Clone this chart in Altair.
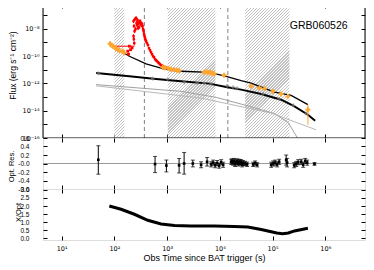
import math
import altair as alt
import pandas as pd

# ---------------- panel sizes ----------------
W, H1, H2, H3 = 322, 134, 51, 51

# ---------------- axis domains / ticks ----------------
T_DOMAIN = [4.44, 5.66e6]
FLUX_DOMAIN = [1e-16, 6.6e-7]
RES_DOMAIN = [-0.6, 0.6]
RATIO_DOMAIN = [-0.1, 3.05]

time_ticks = [1e1, 1e2, 1e3, 1e4, 1e5, 1e6]
time_labels = ["10¹", "10²", "10³", "10⁴", "10⁵", "10⁶"]
flux_ticks = [1e-16, 1e-15, 1e-14, 1e-13, 1e-12, 1e-11, 1e-10, 1e-9, 1e-8, 1e-7]
flux_labels = ["10⁻¹⁶", "", "10⁻¹⁴", "", "10⁻¹²", "", "10⁻¹⁰", "", "10⁻⁸", ""]
res_ticks = [-0.6, -0.4, -0.2, 0.0, 0.2, 0.4, 0.6]
res_labels = ["-0.6", "-0.4", "-0.2", "-0.0", "0.2", "0.4", "0.6"]
ratio_ticks = [0.0, 0.5, 1.0, 1.5, 2.0, 2.5, 3.0]
ratio_labels = ["0.0", "0.5", "1.0", "1.5", "2.0", "2.5", "3.0"]

# ---------------- data (times in s, log10 where noted) ----------------
band_start = [100, 1030, 30200]
band_end = [155, 8260, 209000]
dash_times = [371, 14200]

# X-ray (red) light curve, log10 t / log10 flux / log10 error
xrt_log_t = [2.364, 2.364, 2.370, 2.374, 2.378, 2.383, 2.393, 2.402, 2.412, 2.421,
             2.431, 2.440, 2.450, 2.459, 2.469, 2.478, 2.488, 2.497, 2.507, 2.516,
             2.526, 2.535, 2.545, 2.554, 2.564, 2.573, 2.583, 2.592, 2.602, 2.620,
             2.639, 2.658, 2.677, 2.696, 2.715, 2.734, 2.753, 2.772, 2.791, 2.810,
             2.829, 2.848, 2.867, 2.886, 2.905, 2.924, 2.943, 2.981, 3.038, 3.114]
xrt_log_f = [-7.434, -8.537, -8.757, -7.801, -9.051, -8.169, -7.287, -8.022, -7.213, -7.581,
             -7.728, -7.360, -7.949, -7.581, -7.875, -7.507, -7.434, -7.654, -7.581, -7.728,
             -7.654, -7.801, -8.022, -8.169, -8.390, -8.537, -8.684, -8.831, -8.904, -9.051,
             -9.199, -9.419, -9.566, -9.713, -9.860, -10.007, -10.081, -10.228, -10.301, -10.375,
             -10.449, -10.522, -10.596, -10.669, -10.706, -10.743, -10.816, -10.853, -10.926, -11.000]
xrt_log_err = [0.15] * 29 + [0.09] * 21

# early X-ray points
xrt_early_log_t = [2.254, 2.285, 2.336, 2.269, 2.307]
xrt_early_log_f = [-9.640, -9.272, -9.397, -9.860, -9.529]
xrt_bin_log_lo = [1.956]
xrt_bin_log_hi = [2.383]
xrt_bin_log_f = [-9.272]

# optical (orange) points
opt_log_t = [1.918, 1.947, 1.975, 2.004, 2.032, 2.065, 2.099, 2.159, 2.184,
             2.918, 2.962, 3.019, 3.076, 3.133, 3.190, 3.228,
             3.702, 3.740, 3.778, 3.816, 3.854, 3.892, 4.082,
             4.594, 4.751, 4.846, 5.006, 5.163, 5.290, 5.670]
opt_log_f = [-9.088, -9.199, -9.272, -9.346, -9.419, -9.515, -9.603, -9.640, -9.750,
             -10.816, -10.853, -10.890, -10.963, -11.000, -11.037, -11.074,
             -11.184, -11.147, -11.221, -11.184, -11.257, -11.294, -11.404,
             -12.213, -12.338, -12.382, -12.581, -12.779, -12.949, -13.926]
opt_last_log_lo = [-15.029]
opt_last_log_hi = [-13.559]

# models
optmod_log_t = [1.918, 2.127, 2.285, 2.602, 2.918, 3.266, 3.803, 4.120, 4.405, 4.594, 5.036, 5.353, 5.670]
optmod_log_f = [-9.147, -9.640, -10.007, -10.574, -10.912, -11.110, -11.184, -11.478, -11.800,
                -11.971, -12.632, -12.875, -13.559]
xmod_log_t = [1.653, 2.285, 2.791, 3.266, 3.803, 4.120, 4.405, 4.784, 5.163, 5.416, 5.670, 5.808]
xmod_log_f = [-11.235, -11.478, -11.676, -11.846, -12.015, -12.265, -12.456, -12.779, -13.191,
              -13.684, -14.294, -14.735]
compA_log_t = [1.653, 3.266, 3.930, 4.461, 5.030, 5.296, 5.467, 5.524]
compA_log_f = [-12.088, -12.581, -13.022, -13.574, -14.199, -14.860, -15.963, -16.400]
compB_log_t = [1.653, 3.645, 4.974, 5.827]
compB_log_f = [-12.176, -13.074, -14.176, -15.397]

# grey converted points on lower curve
xconv_log_t = [1.696, 2.729, 3.013, 3.328, 3.569, 3.702, 3.835, 4.139, 4.252, 4.328, 4.822, 5.125, 5.391, 5.636]
xconv_log_f = [-11.257, -11.647, -11.699, -11.919, -11.956, -11.993, -12.029, -12.176, -12.287,
               -12.360, -12.765, -13.132, -13.610, -14.199]

# optical residuals
res_log_t = [1.696, 2.772, 2.987, 3.228, 3.323, 3.488, 3.645, 3.759, 3.835, 3.873,
             3.911, 3.949, 3.987, 4.025, 4.063, 4.214, 4.233, 4.252, 4.271, 4.290,
             4.309, 4.328, 4.347, 4.366, 4.385, 4.404, 4.423, 4.442, 4.480, 4.518,
             4.632, 4.670, 4.708, 4.974, 5.011, 5.049, 5.087, 5.125, 5.258, 5.277,
             5.410, 5.448, 5.486, 5.543, 5.581, 5.619, 5.657, 5.795]
res_val = [0.088, -0.014, -0.048, -0.043, 0.0, 0.0, -0.03, 0.04, -0.02, 0.02,
           -0.04, 0.01, -0.05, 0.03, -0.03, 0.04, 0.05, 0.02, 0.06, -0.01,
           0.03, 0.05, 0.0, 0.04, 0.02, 0.03, -0.02, 0.01, 0.0, -0.02,
           -0.02, 0.01, -0.03, -0.03, 0.0, 0.02, -0.02, 0.04, 0.08, 0.02,
           -0.04, -0.01, 0.03, 0.04, -0.03, 0.06, 0.02, -0.01]
res_err_lo = [0.34, 0.20, 0.15, 0.18, 0.25, 0.08, 0.07, 0.10, 0.06, 0.06,
              0.06, 0.06, 0.06, 0.06, 0.06, 0.06, 0.06, 0.06, 0.06, 0.06,
              0.06, 0.06, 0.06, 0.06, 0.06, 0.06, 0.06, 0.06, 0.05, 0.05,
              0.05, 0.05, 0.05, 0.06, 0.06, 0.06, 0.06, 0.06, 0.12, 0.10,
              0.06, 0.06, 0.06, 0.06, 0.06, 0.06, 0.06, 0.03]
res_err_hi = [0.33, 0.18, 0.13, 0.16, 0.26, 0.08, 0.07, 0.10, 0.06, 0.06,
              0.06, 0.06, 0.06, 0.06, 0.06, 0.06, 0.06, 0.06, 0.06, 0.06,
              0.06, 0.06, 0.06, 0.06, 0.06, 0.06, 0.06, 0.06, 0.05, 0.05,
              0.05, 0.05, 0.05, 0.06, 0.06, 0.06, 0.06, 0.06, 0.12, 0.10,
              0.06, 0.06, 0.06, 0.06, 0.06, 0.06, 0.06, 0.03]

# X / Opt ratio
ratio_log_t = [1.905, 2.127, 2.380, 2.634, 2.886, 3.139, 3.455, 3.898, 4.271, 4.531,
               4.784, 4.911, 5.080, 5.190, 5.300, 5.416, 5.670]
ratio_val = [2.0, 1.8, 1.49, 1.12, 0.89, 0.79, 0.76, 0.76, 0.74, 0.70,
             0.55, 0.46, 0.33, 0.29, 0.33, 0.46, 0.62]

label_text = ["GRB060526"]
label_t = [7.5e5]
label_f = [1.6e-8]

# ---------------- helpers ----------------
def p10(v):
    return [10 ** x for x in v]

def lookup_expr(labels, index_expr):
    arr = "[" + ",".join("'%s'" % s for s in labels) + "]"
    return arr + "[" + index_expr + "]"

FONT = "Liberation Sans"
LFONT = "DejaVu Sans"
xs = alt.Scale(type="log", domain=T_DOMAIN, nice=False)
ys_flux = alt.Scale(type="log", domain=FLUX_DOMAIN, nice=False)
ys_res = alt.Scale(domain=RES_DOMAIN, nice=False, zero=False)
ys_ratio = alt.Scale(domain=RATIO_DOMAIN, nice=False, zero=False)


def ax_in(orient, offset, values, size=4):
    return alt.Axis(orient=orient, offset=offset, values=values, labels=False,
                    domain=False, ticks=True, tickSize=size, tickColor="black",
                    tickWidth=1, grid=False, title=None)


def ax_main_y(values, expr, title, tx, ty, pad, fsize=6.5, tsize=8.5, lfont=FONT):
    return alt.Axis(orient="left", values=values, labelExpr=expr, ticks=False, tickSize=0,
                    domain=False, grid=False, labelPadding=pad, labelFont=lfont,
                    labelFontSize=fsize, labelColor="black", title=title, titleX=tx,
                    titleY=ty, titleBaseline="middle", titleFont=FONT,
                    titleFontSize=tsize, titleFontWeight="normal", titleColor="black")


def hatch_fill(t0, t1, h, period=3.0, frac=0.4, ink="#c2c2c2"):
    """Diagonal '/' hatching as a striped linear gradient (style only)."""
    span = math.log10(T_DOMAIN[1]) - math.log10(T_DOMAIN[0])
    w = W * (math.log10(t1) - math.log10(t0)) / span
    k = (w + h) / (w * w + h * h)
    n = max(1, int(round((w + h) / period)))
    stops = []
    for i in range(n):
        a, b, e = i / n, (i + frac) / n, (i + 1) / n
        stops += [alt.GradientStop(color=ink, offset=a), alt.GradientStop(color=ink, offset=b),
                  alt.GradientStop(color="white", offset=b), alt.GradientStop(color="white", offset=e)]
    return alt.LinearGradient(gradient="linear", stops=stops, x1=0, y1=0, x2=k * w, y2=k * h)


# ---------------- top panel ----------------
lo, hi = FLUX_DOMAIN
band_layers = []
for i, (s, e) in enumerate(zip(band_start, band_end)):
    df = pd.DataFrame({"s": [s], "e": [e], "lo": [lo], "hi": [hi]})
    if i == 0:
        xa = ax_in("top", -H1, time_ticks)
        ya = ax_main_y(flux_ticks, lookup_expr(flux_labels, "round(log(datum.value)/LN10)+16"),
                       "Flux (erg s⁻¹ cm⁻²)", -30.5, 61, 4, fsize=6.5, lfont=LFONT)
    else:
        xa, ya = None, None
    band_layers.append(
        alt.Chart(df).mark_rect(fill=hatch_fill(s, e, H1)).encode(
            x=alt.X("s:Q", scale=xs, axis=xa), x2="e:Q",
            y=alt.Y("lo:Q", scale=ys_flux, axis=ya), y2="hi:Q"))

dash_df = pd.DataFrame({"t": dash_times, "lo": lo, "hi": hi})
dashes = alt.Chart(dash_df).mark_rule(color="#808080", strokeDash=[4, 3], strokeWidth=1).encode(
    x=alt.X("t:Q", scale=xs, axis=ax_in("bottom", -H1, time_ticks)),
    y=alt.Y("lo:Q", scale=ys_flux, axis=ax_in("right", -W, flux_ticks)),
    y2="hi:Q",
)


def line_layer(lt, lf, color, width, axis=None):
    df = pd.DataFrame({"t": p10(lt), "f": p10(lf)})
    return alt.Chart(df).mark_line(color=color, strokeWidth=width, clip=True).encode(
        x=alt.X("t:Q", scale=xs, axis=None),
        y=alt.Y("f:Q", scale=ys_flux, axis=axis),
    )


compA = line_layer(compA_log_t, compA_log_f, "#a0a0a0", 1, ax_in("left", -W, flux_ticks))
compB = line_layer(compB_log_t, compB_log_f, "#b8b8b8", 1)
optmod = line_layer(optmod_log_t, optmod_log_f, "black", 1.3)
xmod = line_layer(xmod_log_t, xmod_log_f, "black", 2)

xconv = alt.Chart(pd.DataFrame({"t": p10(xconv_log_t), "f": p10(xconv_log_f)})).mark_point(
    shape="cross", filled=True, size=14, color="#7a7a7a").encode(
    x=alt.X("t:Q", scale=xs, axis=None), y=alt.Y("f:Q", scale=ys_flux, axis=None))

xrt_df = pd.DataFrame({
    "t": p10(xrt_log_t), "f": p10(xrt_log_f),
    "lo": [10 ** (f - e) for f, e in zip(xrt_log_f, xrt_log_err)],
    "hi": [10 ** (f + e) for f, e in zip(xrt_log_f, xrt_log_err)],
})
xrt_err = alt.Chart(xrt_df).mark_rule(color="#ff0000", strokeWidth=1).encode(
    x=alt.X("t:Q", scale=xs, axis=None), y=alt.Y("lo:Q", scale=ys_flux, axis=None), y2="hi:Q")
xrt_pts = alt.Chart(xrt_df).mark_point(shape="square", filled=True, size=6, color="#ff0000", opacity=1).encode(
    x=alt.X("t:Q", scale=xs, axis=None), y=alt.Y("f:Q", scale=ys_flux, axis=None))

early_df = pd.DataFrame({"t": p10(xrt_early_log_t), "f": p10(xrt_early_log_f)})
xrt_early = alt.Chart(early_df).mark_point(shape="square", filled=True, size=8, color="#ff0000", opacity=1).encode(
    x=alt.X("t:Q", scale=xs, axis=None), y=alt.Y("f:Q", scale=ys_flux, axis=None))
bin_df = pd.DataFrame({"a": p10(xrt_bin_log_lo), "b": p10(xrt_bin_log_hi), "f": p10(xrt_bin_log_f)})
xrt_bin = alt.Chart(bin_df).mark_rule(color="#ff0000", strokeWidth=1).encode(
    x=alt.X("a:Q", scale=xs, axis=None), x2="b:Q", y=alt.Y("f:Q", scale=ys_flux, axis=None))

opt_df = pd.DataFrame({"t": p10(opt_log_t), "f": p10(opt_log_f)})
opt_pts = alt.Chart(opt_df).mark_point(shape="cross", filled=True, size=24, color="#ffa630", opacity=1).encode(
    x=alt.X("t:Q", scale=xs, axis=None), y=alt.Y("f:Q", scale=ys_flux, axis=None))
opt_err_df = pd.DataFrame({"t": [p10(opt_log_t)[-1]], "lo": p10(opt_last_log_lo), "hi": p10(opt_last_log_hi)})
opt_err = alt.Chart(opt_err_df).mark_rule(color="#ffa630", strokeWidth=1).encode(
    x=alt.X("t:Q", scale=xs, axis=None), y=alt.Y("lo:Q", scale=ys_flux, axis=None), y2="hi:Q")

label = alt.Chart(pd.DataFrame({"t": label_t, "f": label_f, "s": label_text})).mark_text(
    font=FONT, fontSize=10.5, color="black", align="center", baseline="middle").encode(
    x=alt.X("t:Q", scale=xs, axis=None), y=alt.Y("f:Q", scale=ys_flux, axis=None), text="s:N")

frame_df = pd.DataFrame({"a": [T_DOMAIN[0]], "b": [T_DOMAIN[1]], "lo": [lo], "hi": [hi]})
frame = alt.Chart(frame_df).mark_rect(fillOpacity=0, stroke="black", strokeWidth=1).encode(
    x=alt.X("a:Q", scale=xs, axis=None), x2="b:Q",
    y=alt.Y("lo:Q", scale=ys_flux, axis=None), y2="hi:Q")

top = alt.layer(*band_layers, dashes, compA, compB, optmod, xmod, xconv, xrt_err, xrt_pts,
                xrt_early, xrt_bin, opt_err, opt_pts, label, frame).resolve_axis(
    x="independent", y="independent").properties(width=W, height=H1)

# ---------------- middle panel ----------------
res_df = pd.DataFrame({
    "t": p10(res_log_t), "v": res_val,
    "lo": [v - e for v, e in zip(res_val, res_err_lo)],
    "hi": [v + e for v, e in zip(res_val, res_err_hi)],
})
zero_df = pd.DataFrame({"v": [0.0]})

zero_line = alt.Chart(zero_df).mark_rule(color="#9a9a9a", strokeWidth=1).encode(
    y=alt.Y("v:Q", scale=ys_res,
            axis=ax_main_y(res_ticks, lookup_expr(res_labels, "round((datum.value+0.6)*5)"),
                           "Opt. Res.", -32, 28, 14, fsize=6.5, tsize=7.5)))
res_bar = alt.Chart(res_df).mark_rule(color="black", strokeWidth=1).encode(
    x=alt.X("t:Q", scale=xs, axis=ax_in("top", -H2, time_ticks)),
    y=alt.Y("lo:Q", scale=ys_res, axis=ax_in("right", -W, res_ticks)), y2="hi:Q")
cap_lo = alt.Chart(res_df).mark_tick(orient="horizontal", size=4, thickness=1, color="black").encode(
    x=alt.X("t:Q", scale=xs, axis=ax_in("bottom", -H2, time_ticks)),
    y=alt.Y("lo:Q", scale=ys_res, axis=ax_in("left", -W, res_ticks)))
cap_hi = alt.Chart(res_df).mark_tick(orient="horizontal", size=4, thickness=1, color="black").encode(
    x=alt.X("t:Q", scale=xs, axis=None), y=alt.Y("hi:Q", scale=ys_res, axis=None))
res_pts = alt.Chart(res_df).mark_point(shape="square", filled=True, size=7, color="black", opacity=1).encode(
    x=alt.X("t:Q", scale=xs, axis=None), y=alt.Y("v:Q", scale=ys_res, axis=None))

mid = alt.layer(zero_line, res_bar, cap_lo, cap_hi, res_pts).resolve_axis(
    x="independent", y="independent").properties(width=W, height=H2)

# ---------------- bottom panel ----------------
ratio_df = pd.DataFrame({"t": p10(ratio_log_t), "r": ratio_val})
x_main = alt.Axis(orient="bottom", values=time_ticks,
                  labelExpr=lookup_expr(time_labels, "round(log(datum.value)/LN10)-1"),
                  ticks=False, tickSize=0, domain=False, grid=False, labelPadding=10,
                  labelBaseline="alphabetic", labelFont=LFONT, labelFontSize=6.5, labelColor="black",
                  title="Obs Time since BAT trigger (s)", titleFont=FONT, titleFontSize=9,
                  titleFontWeight="normal", titleColor="black", titleY=20.5,
                  titleBaseline="alphabetic")
ratio_line = alt.Chart(ratio_df).mark_line(color="black", strokeWidth=3).encode(
    x=alt.X("t:Q", scale=xs, axis=x_main),
    y=alt.Y("r:Q", scale=ys_ratio,
            axis=ax_main_y(ratio_ticks, lookup_expr(ratio_labels, "round(datum.value*2)"),
                           "X/Opt", -24.7, 23, 14, fsize=6.5, tsize=7.5)))
carrier1 = alt.Chart(ratio_df).mark_point(opacity=0).encode(
    x=alt.X("t:Q", scale=xs, axis=ax_in("top", -H3, time_ticks)),
    y=alt.Y("r:Q", scale=ys_ratio, axis=ax_in("right", -W, ratio_ticks)))
carrier2 = alt.Chart(ratio_df).mark_point(opacity=0).encode(
    x=alt.X("t:Q", scale=xs, axis=ax_in("bottom", -H3, time_ticks)),
    y=alt.Y("r:Q", scale=ys_ratio, axis=ax_in("left", -W, ratio_ticks)))

bot = alt.layer(ratio_line, carrier1, carrier2).resolve_axis(
    x="independent", y="independent").properties(width=W, height=H3)

chart = alt.vconcat(top, mid, bot, spacing=0, bounds="flush").properties(
    padding={"left": -2, "top": -5, "right": 0, "bottom": 0},
).configure_view(stroke="black", strokeWidth=1).configure(background="white", font=FONT)

chart.save("out.html", embed_options={"renderer": "svg", "actions": False})
